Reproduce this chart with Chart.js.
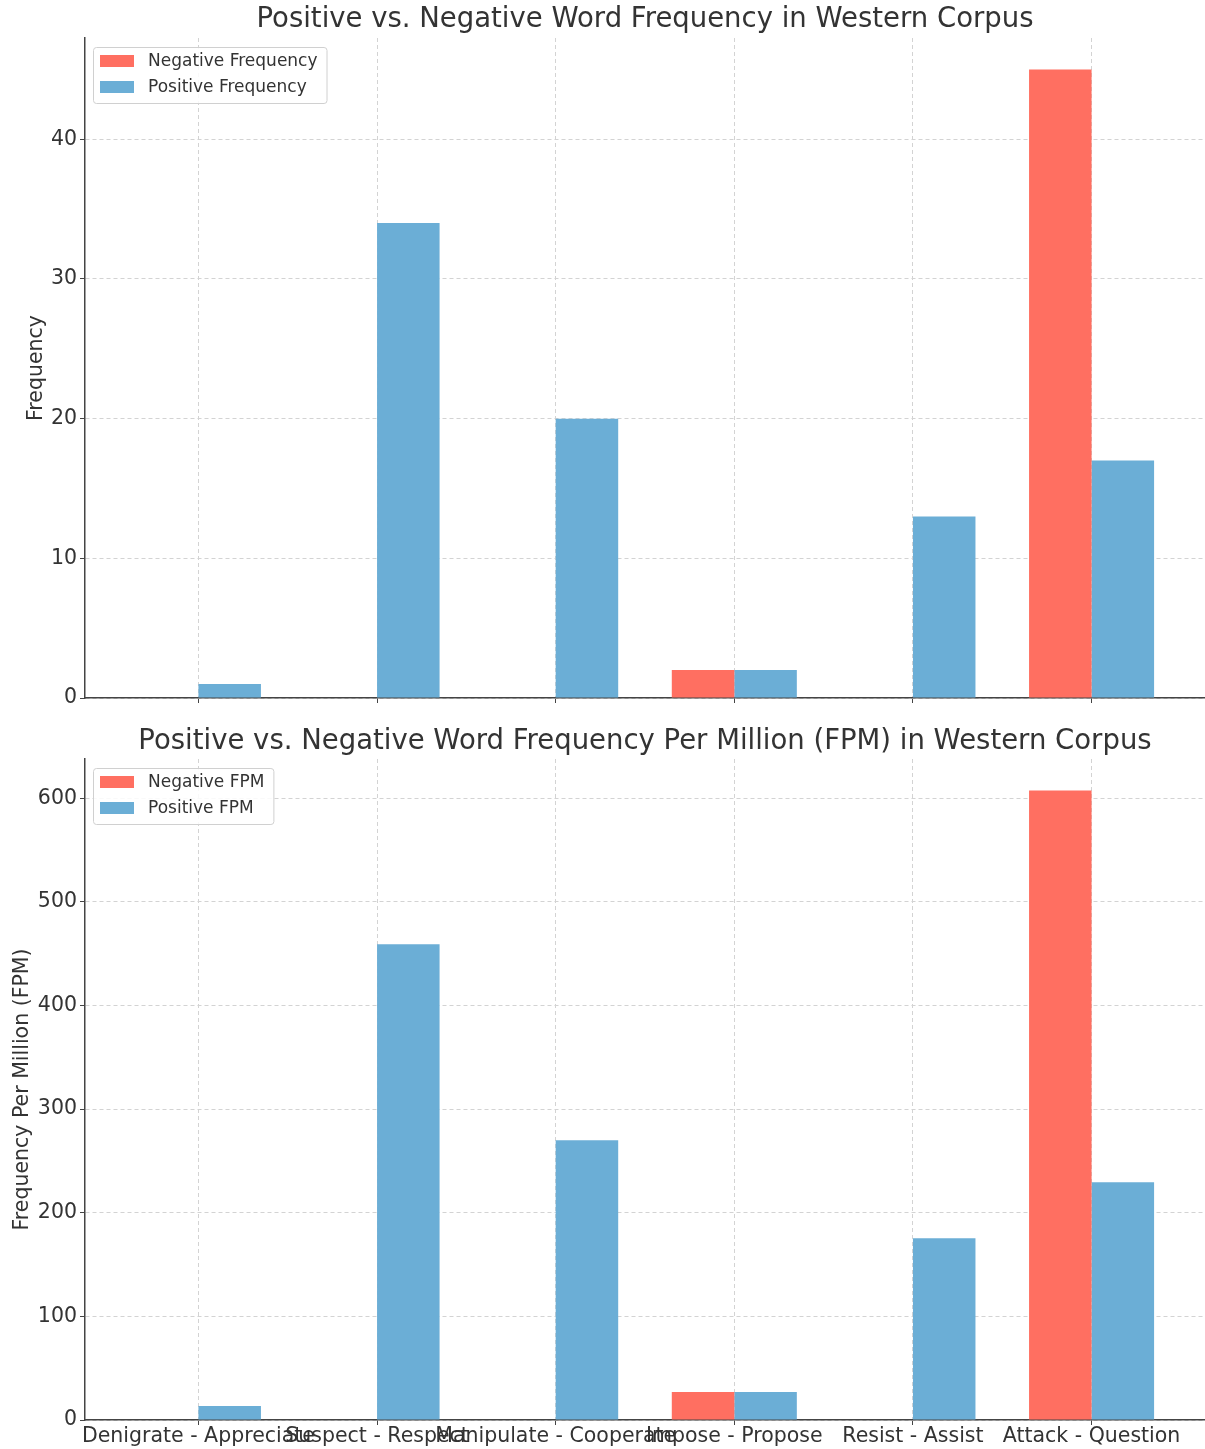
<!DOCTYPE html>
<html>
<head>
<meta charset="utf-8">
<script src="https://cdn.jsdelivr.net/npm/chart.js@4/dist/chart.umd.min.js"></script>
<style>
  body { margin: 0; background: #fff; }
  canvas { display: block; }
</style>
</head>
<body>
<canvas id="freqChart" width="1205" height="722"></canvas>
<canvas id="fpmChart" width="1205" height="727"></canvas>
<script>
const categories = ['Denigrate - Appreciate', 'Suspect - Respect', 'Manipulate - Cooperate', 'Impose - Propose', 'Resist - Assist', 'Attack - Question'];

const negativeFreq = [0, 0, 0, 2, 0, 45];
const positiveFreq = [1, 34, 20, 2, 13, 17];

const negativeFpm = [0, 0, 0, 27, 0, 607.5];
const positiveFpm = [13.5, 459, 270, 27, 175.5, 229.5];

const freqTicks = [0, 10, 20, 30, 40];
const fpmTicks = [0, 100, 200, 300, 400, 500, 600];

const RED = '#FF6F61';
const BLUE = '#6BAED6';
const TEXT = '#333';
const FONT = "'DejaVu Sans', sans-serif";

// legend drawn inside the plot area, like matplotlib's upper left legend
const boxLegend = {
    id: 'boxLegend',
    afterDraw(chart) {
        const ctx = chart.ctx;
        const area = chart.chartArea;
        const sets = chart.data.datasets;
        ctx.save();
        ctx.font = '17px ' + FONT;
        let textW = 0;
        sets.forEach(ds => { textW = Math.max(textW, ctx.measureText(ds.label).width); });
        const x = area.left + 8, y = area.top + 9;
        const w = 55 + textW + 9, h = 56;
        ctx.fillStyle = 'rgba(255,255,255,0.85)';
        ctx.strokeStyle = '#d0d0d0';
        ctx.lineWidth = 1;
        ctx.beginPath();
        ctx.roundRect(x + 0.5, y + 0.5, w, h, 3);
        ctx.fill();
        ctx.stroke();
        sets.forEach((ds, i) => {
            const cy = y + 14 + i * 26;
            ctx.fillStyle = ds.backgroundColor;
            ctx.fillRect(x + 7, cy - 6, 34, 12);
            ctx.fillStyle = TEXT;
            ctx.textBaseline = 'middle';
            ctx.fillText(ds.label, x + 55, cy + 1);
        });
        ctx.restore();
    }
};

function toPoints(values) {
    return values.map((v, i) => ({ x: i, y: v }));
}

function makeChart(id, opts) {
    return new Chart(document.getElementById(id), {
        type: 'bar',
        data: {
            datasets: [
                { label: opts.negLabel, data: toPoints(opts.neg), backgroundColor: RED, borderWidth: 0 },
                { label: opts.posLabel, data: toPoints(opts.pos), backgroundColor: BLUE, borderWidth: 0 }
            ]
        },
        options: {
            responsive: false,
            animation: false,
            categoryPercentage: 0.7,
            barPercentage: 1.0,
            layout: { padding: 0 },
            plugins: {
                legend: { display: false },
                tooltip: { enabled: false },
                title: {
                    display: true,
                    fullSize: false,
                    text: opts.title,
                    color: TEXT,
                    font: { family: FONT, size: 27.5, weight: 'normal', lineHeight: 1.2 },
                    padding: opts.titlePad
                }
            },
            scales: {
                x: {
                    type: 'linear',
                    min: -0.635,
                    max: 5.635,
                    offset: false,
                    afterBuildTicks: scale => { scale.ticks = categories.map((c, i) => ({ value: i })); },
                    afterFit: scale => { scale.height = opts.xHeight; },
                    ticks: {
                        display: opts.showLabels,
                        autoSkip: false,
                        maxRotation: 0,
                        minRotation: 0,
                        padding: -1,
                        color: TEXT,
                        font: { family: FONT, size: 20.5 },
                        callback: v => categories[v]
                    },
                    grid: {
                        offset: false,
                        color: '#d3d3d3',
                        tickColor: '#444',
                        tickLength: 5,
                        tickBorderDash: [],
                        drawTicks: true
                    },
                    border: { display: true, color: '#444', width: 1.5, dash: [4, 3] }
                },
                y: {
                    min: 0,
                    max: opts.yMax,
                    afterBuildTicks: scale => { scale.ticks = opts.yTicks.map(v => ({ value: v })); },
                    afterFit: scale => { scale.width = 85; },
                    ticks: {
                        padding: 3,
                        color: TEXT,
                        font: { family: FONT, size: 20.5 }
                    },
                    grid: {
                        color: '#d3d3d3',
                        tickColor: '#444',
                        tickLength: 5,
                        tickBorderDash: []
                    },
                    border: { display: true, color: '#444', width: 1.5, dash: [4, 3] },
                    title: {
                        display: true,
                        text: opts.yTitle,
                        color: TEXT,
                        font: { family: FONT, size: 20.5 },
                        padding: { top: opts.yTitlePad, bottom: 0 }
                    }
                }
            }
        },
        plugins: [boxLegend]
    });
}

makeChart('freqChart', {
    title: 'Positive vs. Negative Word Frequency in Western Corpus',
    titlePad: { top: 3, bottom: 2 },
    negLabel: 'Negative Frequency',
    posLabel: 'Positive Frequency',
    neg: negativeFreq,
    pos: positiveFreq,
    yMax: 47.25,
    yTicks: freqTicks,
    yTitle: 'Frequency',
    yTitlePad: 24,
    xHeight: 24,
    showLabels: false
});

makeChart('fpmChart', {
    title: 'Positive vs. Negative Word Frequency Per Million (FPM) in Western Corpus',
    titlePad: { top: 3, bottom: 1 },
    negLabel: 'Negative FPM',
    posLabel: 'Positive FPM',
    neg: negativeFpm,
    pos: positiveFpm,
    yMax: 637.875,
    yTicks: fpmTicks,
    yTitle: 'Frequency Per Million (FPM)',
    yTitlePad: 10,
    xHeight: 29,
    showLabels: true
});
</script>
</body>
</html>
